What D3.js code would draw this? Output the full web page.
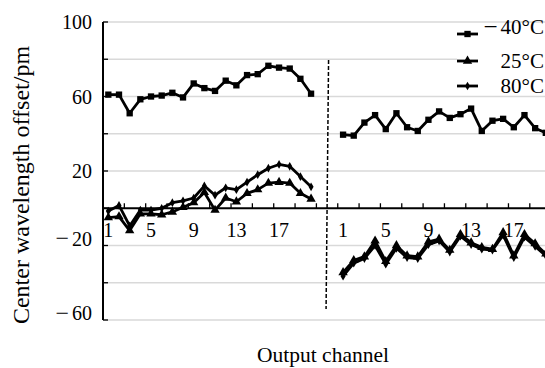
<!DOCTYPE html>
<html>
<head>
<meta charset="utf-8">
<script src="https://cdn.jsdelivr.net/npm/d3@7"></script>
<style>
body { margin: 0; background: #fff; }
text { font-family: "Liberation Serif", "Times New Roman", serif; fill: #000; }
</style>
</head>
<body>
<div id="chart-area"></div>
<script>
var width = 545;
var height = 368;

// channels 1..20 in each group
var channels = d3.range(1, 21);
var channelLabels = [1, 5, 9, 13, 17];
var yTicks = [-60, -40, -20, 0, 20, 40, 60, 80, 100];
var yLabels = [-60, -20, 20, 60, 100];
var seriesNames = ["−40°C", "25°C", "80°C"];

var left40 = [61, 61, 51, 58.5, 60, 60.5, 62, 59.5, 67, 64.5, 63, 68.5, 66, 71.5, 72, 76.5, 75.5, 75, 69.5, 61.5];
var left25 = [-5, -4.5, -12, -3, -3, -3.5, -2, 0.5, 3, 8.5, -1, 5.5, 3.5, 8, 10, 13.5, 14, 13.5, 8, 5];
var left80 = [-1.5, 1.5, -9.5, -1, -1, 0, 3, 4, 5.5, 12, 7, 11, 10, 14, 18, 21.5, 23.5, 22.5, 17, 11.5];

var right40 = [39.5, 39, 46, 50, 42.5, 51, 43.5, 41.5, 47.5, 52, 48.5, 50.5, 53.5, 41.5, 47, 48, 43.5, 50, 43, 40.5];
var right25 = [-34.5, -28, -26, -17.5, -28.5, -20, -25.5, -26, -18, -16.5, -22.5, -14, -18.5, -21, -22, -13, -25.5, -14, -19, -24.5];
var right80 = [-36.5, -29.5, -27, -20, -30, -21.5, -26.5, -27, -19.5, -17.5, -23.5, -15, -19.5, -22, -22.5, -14.5, -26.5, -15.5, -20.5, -25.5];

var svg = d3.select("#chart-area").append("svg")
    .attr("width", width)
    .attr("height", height);

// 42 category slots: left group 0-19, two empty, right group 22-41
var x = d3.scaleLinear()
    .domain([0, 42])
    .range([103, 103 + 42 * 10.67]);

var y = d3.scaleLinear()
    .domain([-60, 100])
    .range([320, 22]);

var leftOffset = 0;
var rightOffset = 22;

// write a leading minus as its own wider piece, like the source figure
function minusText(sel, str) {
    if (str.charAt(0) === "−") {
        sel.append("tspan").text("−").style("font-size", "1.2em").attr("dy", "0.04em");
        sel.append("tspan").attr("dx", 3).attr("dy", "-0.04em").text(str.slice(1));
    } else {
        sel.text(str);
    }
}

// gridlines
svg.selectAll(".grid")
    .data(yTicks.filter(function(d) { return d !== 0; }))
    .enter()
    .append("line")
    .attr("class", "grid")
    .attr("x1", x(0))
    .attr("x2", width)
    .attr("y1", function(d) { return y(d); })
    .attr("y2", function(d) { return y(d); })
    .attr("stroke", "#d9d9d9")
    .attr("stroke-width", 1.3);

// y axis
var yAxis = svg.append("g")
    .attr("transform", "translate(" + x(0) + ",0)");

yAxis.append("line")
    .attr("y1", y(-60))
    .attr("y2", y(100))
    .attr("stroke", "#000")
    .attr("stroke-width", 2);

yAxis.selectAll(".ytick")
    .data(yTicks)
    .enter()
    .append("line")
    .attr("x1", 0)
    .attr("x2", 5)
    .attr("y1", function(d) { return y(d); })
    .attr("y2", function(d) { return y(d); })
    .attr("stroke", "#000")
    .attr("stroke-width", 1.3);

svg.selectAll(".ylabel")
    .data(yLabels)
    .enter()
    .append("text")
    .attr("x", 92)
    .attr("y", function(d) { return y(d); })
    .attr("dy", "0.35em")
    .attr("text-anchor", "end")
    .style("font-size", "20px")
    .each(function(d) {
        minusText(d3.select(this), d < 0 ? "−" + Math.abs(d) : String(d));
    });

// x axis along zero
svg.append("line")
    .attr("x1", x(0))
    .attr("x2", width)
    .attr("y1", y(0))
    .attr("y2", y(0))
    .attr("stroke", "#000")
    .attr("stroke-width", 2);

svg.selectAll(".xtick")
    .data(d3.range(2, 43, 2))
    .enter()
    .append("line")
    .attr("x1", function(d) { return x(d); })
    .attr("x2", function(d) { return x(d); })
    .attr("y1", y(0))
    .attr("y2", y(0) - 5)
    .attr("stroke", "#000")
    .attr("stroke-width", 1.3);

[leftOffset, rightOffset].forEach(function(off) {
    svg.selectAll(null)
        .data(channelLabels)
        .enter()
        .append("text")
        .attr("x", function(d) { return x(off + d - 0.5); })
        .attr("y", 237)
        .attr("text-anchor", "middle")
        .style("font-size", "20px")
        .text(function(d) { return d; });
});

// divider between groups
svg.append("line")
    .attr("x1", x(21) + 1.5)
    .attr("x2", x(21) - 1)
    .attr("y1", 60)
    .attr("y2", 309)
    .attr("stroke", "#000")
    .attr("stroke-width", 1.5)
    .attr("stroke-dasharray", "4,2");

var symSquare = d3.symbol().type(d3.symbolSquare).size(40);
var symTriangle = d3.symbol().type(d3.symbolTriangle).size(38);
var symDiamond = d3.symbol().type(d3.symbolDiamond).size(22);
var symbols = [symSquare, symTriangle, symDiamond];

var line = d3.line()
    .x(function(d) { return x(d.slot + 0.5); })
    .y(function(d) { return y(d.value); });

function drawSeries(values, off, sym) {
    var pts = values.map(function(v, i) {
        return { slot: off + channels[i] - 1, value: v };
    });
    svg.append("path")
        .datum(pts)
        .attr("d", line)
        .attr("fill", "none")
        .attr("stroke", "#000")
        .attr("stroke-width", 2.8)
        .attr("stroke-linejoin", "round");
    svg.selectAll(null)
        .data(pts)
        .enter()
        .append("path")
        .attr("d", sym)
        .attr("transform", function(d) {
            return "translate(" + x(d.slot + 0.5) + "," + y(d.value) + ")";
        })
        .attr("fill", "#000");
}

drawSeries(left40, leftOffset, symSquare);
drawSeries(left25, leftOffset, symTriangle);
drawSeries(left80, leftOffset, symDiamond);
drawSeries(right40, rightOffset, symSquare);
drawSeries(right25, rightOffset, symTriangle);
drawSeries(right80, rightOffset, symDiamond);

// legend
var legend = svg.selectAll(".legend")
    .data(seriesNames)
    .enter()
    .append("g")
    .attr("class", "legend")
    .attr("transform", function(d, i) { return "translate(0," + [34, 61, 86][i] + ")"; });

legend.append("rect")
    .attr("x", 457)
    .attr("y", -7)
    .attr("width", 88)
    .attr("height", 14)
    .attr("fill", "#fff");

legend.append("line")
    .attr("x1", 457)
    .attr("x2", 478)
    .attr("stroke", "#000")
    .attr("stroke-width", 2.8);

legend.append("path")
    .attr("d", function(d, i) { return symbols[i](); })
    .attr("transform", "translate(467.5,0)")
    .attr("fill", "#000");

legend.append("text")
    .attr("x", 544)
    .attr("dy", "0.35em")
    .attr("text-anchor", "end")
    .style("font-size", "21px")
    .each(function(d) { minusText(d3.select(this), d); });

// axis titles
svg.append("text")
    .attr("transform", "translate(29,185) rotate(-90)")
    .attr("text-anchor", "middle")
    .style("font-size", "24px")
    .text("Center wavelength offset/pm");

svg.append("text")
    .attr("x", 323)
    .attr("y", 362)
    .attr("text-anchor", "middle")
    .style("font-size", "21.5px")
    .text("Output channel");
</script>
</body>
</html>
